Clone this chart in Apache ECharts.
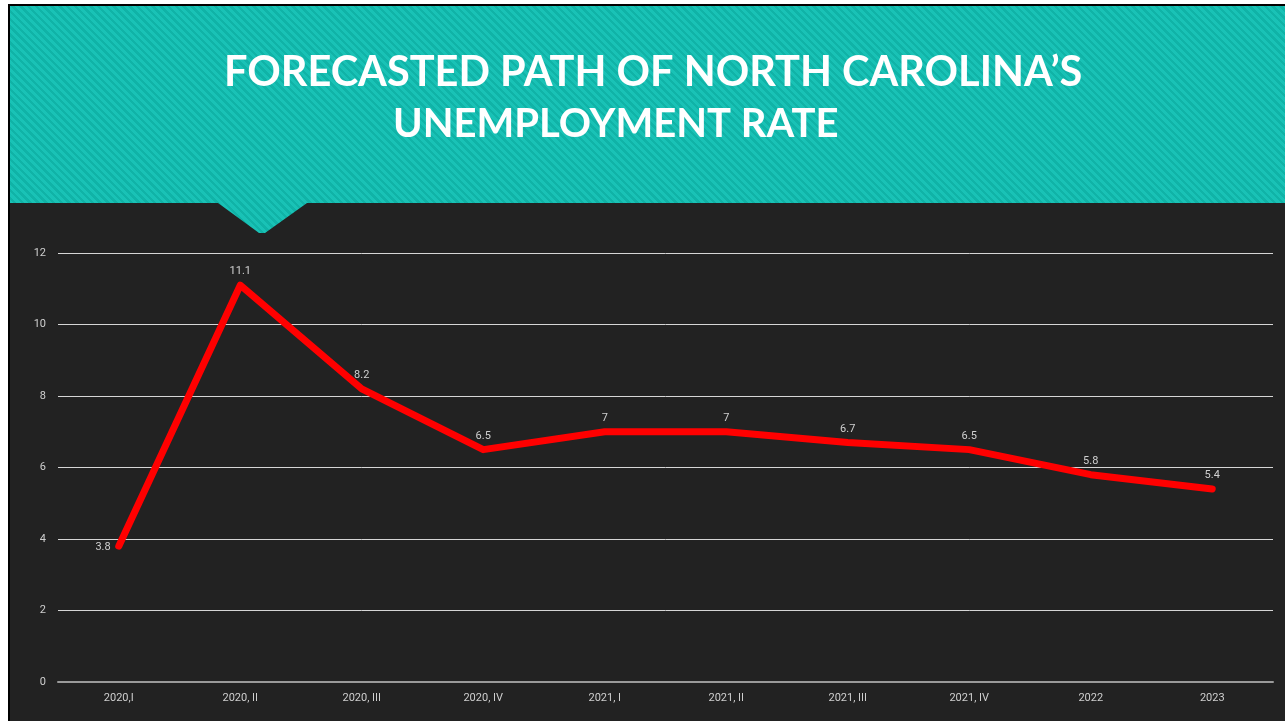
<!DOCTYPE html>
<html>
<head>
<meta charset="utf-8">
<script src="https://cdn.jsdelivr.net/npm/echarts@6/dist/echarts.min.js"></script>
<style>
  html, body { margin: 0; padding: 0; background: #ffffff; width: 1285px; height: 721px; overflow: hidden; }
  #frame { position: absolute; left: 8px; top: 4px; width: 1277px; height: 717px; background: #222222;
           border-left: 2px solid #000; border-top: 2px solid #000; box-sizing: border-box; }
  #header { position: absolute; left: 10px; top: 6px; width: 1275px; height: 229px;
            background: repeating-linear-gradient(45deg, #19c2b6 0px, #19c2b6 3px, #10b3a7 3px, #10b3a7 5.5px);
            clip-path: polygon(0 0, 100% 0, 100% 197px, 297px 197px, 255px 227px, 249px 227px, 208px 197px, 0 197px); }
  #chart { position: absolute; left: 0; top: 0; width: 1285px; height: 721px; }
</style>
</head>
<body>
<div id="frame"></div>
<div id="header"></div>
<div id="chart"></div>
<script>
const categories = ['2020,I', '2020, II', '2020, III', '2020, IV', '2021, I', '2021, II', '2021, III', '2021, IV', '2022', '2023'];
const rates = [3.8, 11.1, 8.2, 6.5, 7, 7, 6.7, 6.5, 5.8, 5.4];
const titleLine1 = 'FORECASTED PATH OF NORTH CAROLINA\u2019S';
const titleLine2 = 'UNEMPLOYMENT RATE';

const chart = echarts.init(document.getElementById('chart'), null, { renderer: 'canvas' });
chart.setOption({
  backgroundColor: 'transparent',
  animation: false,
  graphic: [
    { type: 'text', left: 224, top: 52, style: { text: titleLine1, fill: '#ffffff', font: 'bold 41.5px Lato' } },
    { type: 'text', left: 393, top: 104, style: { text: titleLine2, fill: '#ffffff', font: 'bold 40px Lato' } }
  ],
  grid: { left: 58, right: 12, top: 253, bottom: 39 },
  xAxis: {
    type: 'category',
    data: categories,
    boundaryGap: true,
    axisLine: { show: true, lineStyle: { color: '#9a9a9a', width: 2 } },
    axisTick: { show: false },
    axisLabel: { color: '#cfcfcf', fontSize: 11, fontFamily: 'Roboto', margin: 11 }
  },
  yAxis: {
    type: 'value',
    min: 0, max: 12, interval: 2,
    axisLine: { show: false },
    axisTick: { show: false },
    axisLabel: { color: '#cfcfcf', fontSize: 11, fontFamily: 'Roboto', margin: 12 },
    splitLine: { lineStyle: { color: '#d6d6d6', width: 1 } }
  },
  series: [{
    type: 'line',
    data: rates.map((v, i) => i === 0 ? { value: v, label: { position: 'left', distance: 8, offset: [0, 1] } } : v),
    showSymbol: true,
    symbol: 'circle',
    symbolSize: 0.1,
    itemStyle: { color: '#ff0000' },
    lineStyle: { color: '#ff0000', width: 7, cap: 'round', join: 'round' },
    label: { show: true, position: 'top', distance: 8, color: '#d0d0d0', fontSize: 11, fontFamily: 'Roboto' }
  }]
});
</script>
</body>
</html>
